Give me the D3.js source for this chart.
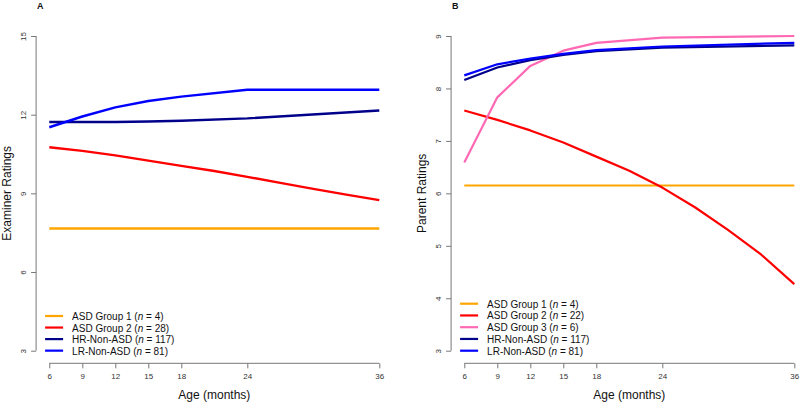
<!DOCTYPE html>
<html><head><meta charset="utf-8">
<script src="https://cdn.jsdelivr.net/npm/d3@7"></script>
<style>body{margin:0;background:#fff}svg{display:block;font-family:"Liberation Sans",Arial,sans-serif}</style>
</head><body>
<script>
// ---- data ----
const ageTicks = [6, 9, 12, 15, 18, 24, 36];
const agesMain = [6, 9, 12, 15, 18, 24, 36];
const agesFine = [6, 9, 12, 15, 18, 21, 24, 27, 30, 33, 36];

// Panel A: Examiner ratings
const yTicksA = [3, 6, 9, 12, 15];
const aGroup1 = [7.66, 7.66, 7.66, 7.66, 7.66, 7.66, 7.66];
const aGroup2 = [10.76, 10.62, 10.45, 10.25, 10.05, 9.85, 9.63, 9.40, 9.17, 8.95, 8.74];
const aHR = [11.72, 11.72, 11.72, 11.74, 11.77, 11.86, 12.16];
const aLR = [11.52, 11.93, 12.28, 12.52, 12.69, 12.95, 12.95];

// Panel B: Parent ratings
const yTicksB = [3, 4, 5, 6, 7, 8, 9];
const bGroup1 = [6.15, 6.15, 6.15, 6.15, 6.15, 6.15, 6.15];
const bGroup2 = [7.58, 7.40, 7.20, 6.97, 6.70, 6.43, 6.11, 5.73, 5.30, 4.83, 4.27];
const bGroup3 = [6.59, 7.83, 8.43, 8.72, 8.87, 8.97, 9.00];
const bHR = [8.16, 8.40, 8.54, 8.64, 8.71, 8.78, 8.82];
const bLR = [8.25, 8.46, 8.57, 8.66, 8.73, 8.80, 8.87];

const legendA = ["ASD Group 1", "ASD Group 2", "HR-Non-ASD", "LR-Non-ASD"];
const nA = ["4", "28", "117", "81"];
const legendB = ["ASD Group 1", "ASD Group 2", "ASD Group 3", "HR-Non-ASD", "LR-Non-ASD"];
const nB = ["4", "22", "6", "117", "81"];

const colors = {g1: "#FFA500", g2: "#FF0000", g3: "#FF69B4", hr: "#00008B", lr: "#0000FF"};

const svg = d3.select("body").append("svg").attr("width", 800).attr("height", 403);

function panel(opt) {
  const x = d3.scaleLinear().domain([6, 36]).range([opt.x0, opt.x0 + 330]);
  const y = d3.scaleLinear().domain([opt.ymin, opt.ymax]).range([350.7, 36]);
  const g = svg.append("g");
  const axisCol = "#777";
  // x axis
  const xa = g.append("g").attr("transform", "translate(0,363.3)")
    .call(d3.axisBottom(x).tickValues(ageTicks).tickSize(5).tickPadding(5).tickFormat(d3.format("d")));
  xa.select(".domain").attr("stroke", axisCol).attr("d", `M${x(6)},0H${x(36)}`);
  xa.selectAll(".tick line").attr("stroke", axisCol);
  xa.selectAll(".tick text").attr("fill", "#333").style("font-size", "8px").attr("font-family", null);
  // y axis
  const yAxisX = x(4.8);
  const ya = g.append("g").attr("transform", `translate(${yAxisX},0)`)
    .call(d3.axisLeft(y).tickValues(opt.yTicks).tickSize(5).tickFormat(d3.format("d")));
  ya.select(".domain").attr("stroke", axisCol).attr("d", `M0,${y(opt.ymin)}V${y(opt.ymax)}`);
  ya.selectAll(".tick line").attr("stroke", axisCol);
  ya.selectAll(".tick text").attr("fill", "#333").style("font-size", "8px").attr("font-family", null)
    .attr("x", null).attr("dy", null)
    .attr("transform", "translate(-13,0) rotate(-90)").attr("text-anchor", "middle").attr("dominant-baseline", "central");
  // titles
  g.append("text").attr("x", (x(6) + x(36)) / 2).attr("y", 399).attr("text-anchor", "middle")
    .style("font-size", "12px").attr("fill", "#111").text("Age (months)");
  g.append("text").attr("transform", `translate(${yAxisX - 29},${(y(opt.ymin) + y(opt.ymax)) / 2}) rotate(-90)`)
    .attr("text-anchor", "middle").attr("dominant-baseline", "central")
    .style("font-size", "12px").attr("fill", "#111").text(opt.ytitle);
  g.append("text").attr("x", yAxisX + 1).attr("y", 9).style("font-size", "9px").style("font-weight", "bold")
    .attr("fill", "#111").text(opt.letter);
  // lines
  const line = d3.line().x(d => x(d[0])).y(d => y(d[1]));
  opt.series.forEach(s => {
    g.append("path").datum(d3.zip(s.ages, s.vals)).attr("d", line)
      .attr("fill", "none").attr("stroke", s.color).attr("stroke-width", opt.lw)
      .attr("stroke-linejoin", "round");
  });
  // legend
  const lg = g.append("g");
  opt.legend.forEach((name, i) => {
    const yy = opt.legY0 + i * opt.legDy;
    lg.append("line").attr("x1", yAxisX + 9).attr("x2", yAxisX + 27).attr("y1", yy).attr("y2", yy)
      .attr("stroke", opt.legColors[i]).attr("stroke-width", 2.2);
    const t = lg.append("text").attr("x", yAxisX + 36).attr("y", yy).attr("dominant-baseline", "central")
      .style("font-size", "10px").attr("fill", "#111");
    t.append("tspan").text(name + " (");
    t.append("tspan").style("font-style", "italic").text("n");
    t.append("tspan").text(" = " + opt.ns[i] + ")");
  });
}

panel({
  x0: 49.3, ymin: 3, ymax: 15, yTicks: yTicksA, ytitle: "Examiner Ratings", letter: "A", lw: 2.4,
  series: [
    {ages: agesMain, vals: aGroup1, color: colors.g1},
    {ages: agesFine, vals: aGroup2, color: colors.g2},
    {ages: agesMain, vals: aHR, color: colors.hr},
    {ages: agesMain, vals: aLR, color: colors.lr}
  ],
  legend: legendA, ns: nA, legColors: [colors.g1, colors.g2, colors.hr, colors.lr],
  legY0: 316, legDy: 11.55
});

panel({
  x0: 464.3, ymin: 3, ymax: 9, yTicks: yTicksB, ytitle: "Parent Ratings", letter: "B", lw: 2.2,
  series: [
    {ages: agesMain, vals: bGroup1, color: colors.g1},
    {ages: agesFine, vals: bGroup2, color: colors.g2},
    {ages: agesMain, vals: bGroup3, color: colors.g3},
    {ages: agesMain, vals: bHR, color: colors.hr},
    {ages: agesMain, vals: bLR, color: colors.lr}
  ],
  legend: legendB, ns: nB, legColors: [colors.g1, colors.g2, colors.g3, colors.hr, colors.lr],
  legY0: 303.7, legDy: 11.75
});
</script>
</body></html>
